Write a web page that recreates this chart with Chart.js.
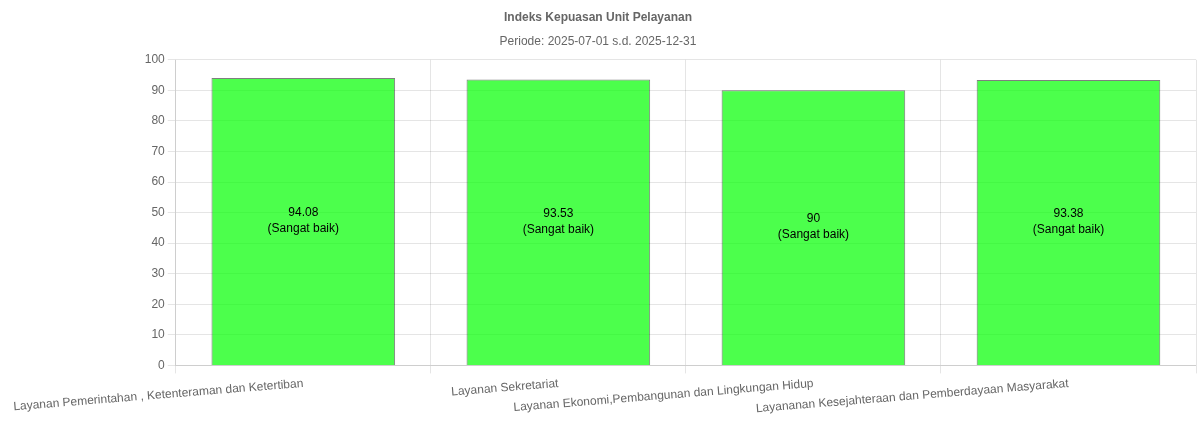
<!DOCTYPE html>
<html>
<head>
<meta charset="utf-8">
<script src="https://cdn.jsdelivr.net/npm/chart.js@4"></script>
<style>
html,body{margin:0;padding:0;background:#fff;}
#wrap{width:1200px;height:438px;}
</style>
</head>
<body>
<div id="wrap"><canvas id="c"></canvas></div>
<script>
const categories = [
  "Layanan Pemerintahan , Ketenteraman dan Ketertiban",
  "Layanan Sekretariat",
  "Layanan Ekonomi,Pembangunan dan Lingkungan Hidup",
  "Layananan Kesejahteraan dan Pemberdayaan Masyarakat"
];
const values = [94.08, 93.53, 90, 93.38];
const ratings = ["Sangat baik", "Sangat baik", "Sangat baik", "Sangat baik"];
const yTicks = [0,10,20,30,40,50,60,70,80,90,100];

const labelPlugin = {
  id: 'barLabels',
  afterDatasetsDraw(chart) {
    const ctx = chart.ctx;
    const meta = chart.getDatasetMeta(0);
    ctx.save();
    ctx.fillStyle = '#000';
    ctx.font = '12px "Helvetica Neue", Helvetica, Arial, sans-serif';
    ctx.textAlign = 'center';
    ctx.textBaseline = 'middle';
    meta.data.forEach((bar, i) => {
      const cy = (bar.y + bar.base) / 2;
      ctx.fillText(String(values[i]), bar.x, cy - 9);
      ctx.fillText('(' + ratings[i] + ')', bar.x, cy + 7);
    });
    ctx.restore();
  }
};

new Chart(document.getElementById('c'), {
  type: 'bar',
  data: {
    labels: categories,
    datasets: [{
      data: values,
      backgroundColor: 'rgba(0,255,0,0.7)',
      borderColor: 'rgba(0,0,0,0.5)',
      borderWidth: 1
    }]
  },
  options: {
    responsive: true,
    maintainAspectRatio: false,
    animation: false,
    layout: { padding: { left: 0, right: 4, bottom: 19 } },
    plugins: {
      legend: { display: false },
      tooltip: { enabled: false },
      title: {
        display: true,
        text: 'Indeks Kepuasan Unit Pelayanan',
        color: '#666',
        font: { size: 12, weight: 'bold' },
        padding: { top: 10, bottom: 10 }
      },
      subtitle: {
        display: true,
        text: 'Periode: 2025-07-01 s.d. 2025-12-31',
        color: '#666',
        font: { size: 12 },
        padding: { bottom: 11 }
      }
    },
    scales: {
      x: {
        afterFit(axis) { axis.paddingLeft += 7; },
        ticks: { color: '#666', font: { size: 12 } },
        grid: { color: 'rgba(0,0,0,0.1)' }
      },
      y: {
        min: 0,
        max: 100,
        afterBuildTicks(axis) { axis.ticks = yTicks.map(v => ({ value: v })); },
        ticks: { color: '#666', font: { size: 12 } },
        grid: { color: 'rgba(0,0,0,0.1)' }
      }
    }
  },
  plugins: [labelPlugin]
});
</script>
</body>
</html>
